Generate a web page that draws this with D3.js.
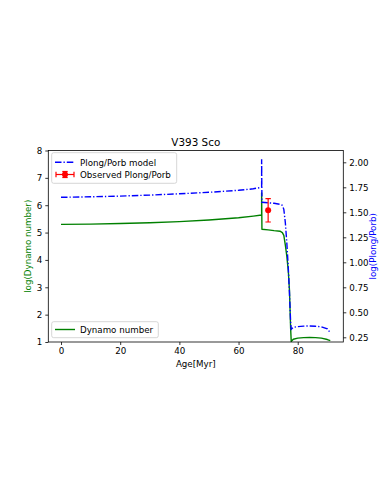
<!DOCTYPE html>
<html>
<head>
<meta charset="utf-8">
<script src="https://cdn.jsdelivr.net/npm/d3@7"></script>
<style>
  body { margin: 0; background: #fff; }
  svg text { font-family: "DejaVu Sans", sans-serif; }
</style>
</head>
<body>
<svg class="chart" width="382" height="494"></svg>
<script>
// model ages (Myr), shared by both curves
var ages = [0, 10, 20, 30, 40, 50, 60, 65, 67.8, 67.8, 67.9, 70, 72, 74, 74.8, 75.3, 75.8, 76.3, 76.8, 77.2, 77.6, 77.8, 78.5, 80, 82, 84, 86, 88, 90, 91]
// log(Dynamo number)
var dynamo = [5.30, 5.31, 5.33, 5.36, 5.40, 5.46, 5.54, 5.60, 5.64, 6.45, 5.12, 5.10, 5.07, 5.05, 5.00, 4.90, 4.55, 4.15, 3.62, 2.90, 1.50, 1.02, 1.10, 1.14, 1.16, 1.165, 1.16, 1.14, 1.09, 1.05]
// log(Plong/Porb) model
var plong = [1.650, 1.655, 1.662, 1.672, 1.685, 1.700, 1.720, 1.735, 1.750, 2.030, 1.600, 1.595, 1.590, 1.580, 1.570, 1.530, 1.400, 1.200, 0.950, 0.700, 0.400, 0.330, 0.350, 0.357, 0.362, 0.363, 0.360, 0.355, 0.335, 0.295]
// observed point
var obsAge = [70.0]
var obsVal = [1.52]
var obsErr = [0.117]
var obsAgeErr = [0.3]

var xTicks = [0, 20, 40, 60, 80]
var yLeftTicks = [1, 2, 3, 4, 5, 6, 7, 8]
var yRightTicks = [0.25, 0.5, 0.75, 1.0, 1.25, 1.5, 1.75, 2.0]

var svg = d3.select(".chart")
var margin = {top: 150.5, left: 48.3, right: 343.3, bottom: 342}
var fs = 8.7
var lw = 1.4

var x = d3.scaleLinear().domain([-4.3, 95.4]).range([margin.left, margin.right])
var yl = d3.scaleLinear().domain([1, 8]).range([margin.bottom, margin.top])
var yr = d3.scaleLinear().domain([0.203, 2.118]).range([margin.bottom, margin.top])

svg.append("defs").append("clipPath").attr("id", "clip")
  .append("rect")
  .attr("x", margin.left).attr("y", margin.top)
  .attr("width", margin.right - margin.left)
  .attr("height", margin.bottom - margin.top)

// axes
var xAxis = svg.append("g")
  .attr("transform", "translate(0," + margin.bottom + ")")
  .call(d3.axisBottom(x).tickValues(xTicks).tickSize(3).tickPadding(3).tickFormat(d3.format("d")))
var lAxis = svg.append("g")
  .attr("transform", "translate(" + margin.left + ",0)")
  .call(d3.axisLeft(yl).tickValues(yLeftTicks).tickSize(3).tickPadding(3).tickFormat(d3.format("d")))
var rAxis = svg.append("g")
  .attr("transform", "translate(" + margin.right + ",0)")
  .call(d3.axisRight(yr).tickValues(yRightTicks).tickSize(3).tickPadding(3).tickFormat(d3.format(".2f")))

;[xAxis, lAxis, rAxis].forEach(function(a) {
  a.select(".domain").remove()
  a.selectAll("text").attr("font-size", fs).attr("fill", "#000").style("font-family", "DejaVu Sans")
  a.selectAll("line").attr("stroke", "#000").attr("stroke-width", 0.8)
})

var plot = svg.append("g").attr("clip-path", "url(#clip)")

// dynamo number (left axis)
var greenLine = d3.line().x((d, i) => x(ages[i])).y(d => yl(d))
plot.append("path")
  .datum(dynamo)
  .attr("d", greenLine)
  .attr("fill", "none")
  .attr("stroke", "green")
  .attr("stroke-width", lw)
  .attr("stroke-linejoin", "round")

// Plong/Porb model (right axis)
var blueLine = d3.line().x((d, i) => x(ages[i])).y(d => yr(d))
plot.append("path")
  .datum(plong)
  .attr("d", blueLine)
  .attr("fill", "none")
  .attr("stroke", "blue")
  .attr("stroke-width", lw)
  .attr("stroke-dasharray", "6.5,2,1.3,2")

// observed point with error bars
var obs = plot.selectAll(".obs")
  .data(obsAge)
  .enter().append("g")
  .attr("class", "obs")
obs.append("line")
  .attr("x1", (d, i) => x(d)).attr("x2", (d, i) => x(d))
  .attr("y1", (d, i) => yr(obsVal[i] - obsErr[i]))
  .attr("y2", (d, i) => yr(obsVal[i] + obsErr[i]))
  .attr("stroke", "red").attr("stroke-width", 1.2)
obs.append("line")
  .attr("x1", (d, i) => x(d - obsAgeErr[i])).attr("x2", (d, i) => x(d + obsAgeErr[i]))
  .attr("y1", (d, i) => yr(obsVal[i])).attr("y2", (d, i) => yr(obsVal[i]))
  .attr("stroke", "red").attr("stroke-width", 1.2)
;[-1, 1].forEach(function(s) {
  obs.append("line")
    .attr("x1", d => x(d) - 2.7).attr("x2", d => x(d) + 2.7)
    .attr("y1", (d, i) => yr(obsVal[i] + s * obsErr[i]))
    .attr("y2", (d, i) => yr(obsVal[i] + s * obsErr[i]))
    .attr("stroke", "red").attr("stroke-width", 1.2)
})
obs.append("circle")
  .attr("cx", d => x(d))
  .attr("cy", (d, i) => yr(obsVal[i]))
  .attr("r", 3)
  .attr("fill", "red")

// frame
svg.append("rect")
  .attr("x", margin.left).attr("y", margin.top)
  .attr("width", margin.right - margin.left)
  .attr("height", margin.bottom - margin.top)
  .attr("fill", "none").attr("stroke", "#000").attr("stroke-width", 0.8)

// titles
var cx = (margin.left + margin.right) / 2
svg.append("text")
  .attr("x", cx).attr("y", 145.5)
  .attr("text-anchor", "middle")
  .attr("font-size", 10.4)
  .text("V393 Sco")
svg.append("text")
  .attr("x", cx).attr("y", 366.5)
  .attr("text-anchor", "middle")
  .attr("font-size", fs)
  .text("Age[Myr]")
svg.append("text")
  .attr("transform", "translate(31," + ((margin.top + margin.bottom) / 2) + ") rotate(-90)")
  .attr("text-anchor", "middle")
  .attr("font-size", fs)
  .attr("fill", "green")
  .text("log(Dynamo number)")
svg.append("text")
  .attr("transform", "translate(376," + ((margin.top + margin.bottom) / 2) + ") rotate(-90)")
  .attr("text-anchor", "middle")
  .attr("font-size", fs)
  .attr("fill", "blue")
  .text("log(Plong/Porb)")

// legends
function legendBox(x0, y0, w, h) {
  svg.append("rect")
    .attr("x", x0).attr("y", y0).attr("width", w).attr("height", h)
    .attr("rx", 2)
    .attr("fill", "#fff").attr("fill-opacity", 0.8)
    .attr("stroke", "#ccc").attr("stroke-width", 0.8)
}

legendBox(51.7, 152.7, 125, 30.6)
svg.append("line")
  .attr("x1", 55).attr("x2", 75).attr("y1", 162.3).attr("y2", 162.3)
  .attr("stroke", "blue").attr("stroke-width", lw)
  .attr("stroke-dasharray", "6.5,2,1.3,2")
svg.append("text").attr("x", 80).attr("y", 165.5).attr("font-size", fs).text("Plong/Porb model")
svg.append("line")
  .attr("x1", 56).attr("x2", 74).attr("y1", 174.5).attr("y2", 174.5)
  .attr("stroke", "red").attr("stroke-width", 1.2)
svg.append("line")
  .attr("x1", 65).attr("x2", 65).attr("y1", 171.5).attr("y2", 177.5)
  .attr("stroke", "red").attr("stroke-width", 1.2)
;[56, 74].forEach(function(px) {
  svg.append("line")
    .attr("x1", px).attr("x2", px).attr("y1", 171.8).attr("y2", 177.2)
    .attr("stroke", "red").attr("stroke-width", 1.2)
})
;[171.5, 177.5].forEach(function(py) {
  svg.append("line")
    .attr("x1", 62.3).attr("x2", 67.7).attr("y1", py).attr("y2", py)
    .attr("stroke", "red").attr("stroke-width", 1.2)
})
svg.append("circle").attr("cx", 65).attr("cy", 174.5).attr("r", 3).attr("fill", "red")
svg.append("text").attr("x", 80).attr("y", 177.8).attr("font-size", fs).text("Observed Plong/Porb")

legendBox(51.7, 321.7, 106.6, 16)
svg.append("line")
  .attr("x1", 55).attr("x2", 75).attr("y1", 329.5).attr("y2", 329.5)
  .attr("stroke", "green").attr("stroke-width", lw)
svg.append("text").attr("x", 80).attr("y", 332.7).attr("font-size", fs).text("Dynamo number")
</script>
</body>
</html>
